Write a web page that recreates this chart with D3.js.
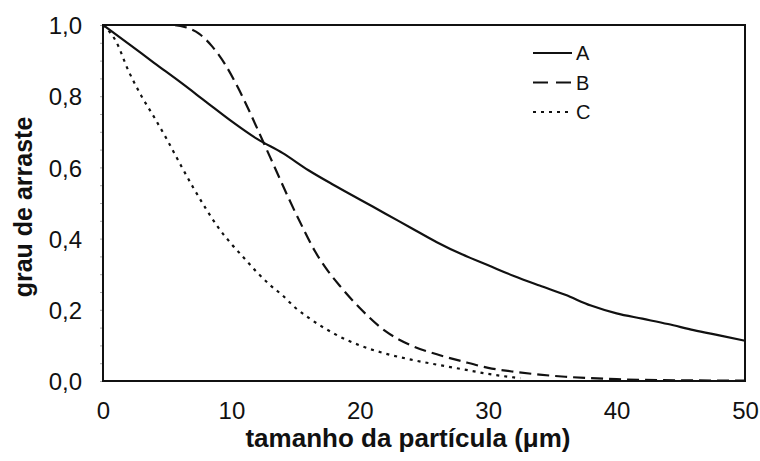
<!DOCTYPE html>
<html>
<head>
<meta charset="utf-8">
<script src="https://cdn.jsdelivr.net/npm/d3@7"></script>
<style>
	body { margin: 0; background: #fff; }
	text { font-family: Arial, "Liberation Sans", sans-serif; fill: #111; }
</style>
</head>
<body>
<div id="chartDiv"></div>
<script>

// particle size (um) and drag degree per curve
var xA = [0, 2, 4, 6, 8, 10, 12, 14, 16, 18, 20, 22, 24, 26, 28, 30, 32, 34, 36, 38, 40, 42, 44, 46, 48, 50]
var yA = [1.0, 0.947, 0.893, 0.84, 0.785, 0.73, 0.68, 0.64, 0.592, 0.55, 0.51, 0.47, 0.43, 0.39, 0.355, 0.325, 0.295, 0.268, 0.242, 0.212, 0.19, 0.175, 0.16, 0.143, 0.128, 0.113]

var xB = [0, 2, 4, 5.5, 6.5, 7.5, 8.5, 9.5, 10.5, 11.5, 12.5, 13.5, 14.5, 15.5, 16.5, 17.5, 18.5, 20, 22, 24, 26, 28, 30, 32, 34, 36, 38, 40, 45, 50]
var yB = [1.0, 1.0, 1.0, 1.0, 0.993, 0.975, 0.94, 0.89, 0.825, 0.75, 0.67, 0.59, 0.51, 0.435, 0.365, 0.31, 0.265, 0.205, 0.14, 0.1, 0.075, 0.055, 0.037, 0.026, 0.018, 0.012, 0.008, 0.005, 0.002, 0.001]

var xC = [0, 1, 2, 3, 4, 5, 6, 7, 8, 9, 10, 11, 12, 13, 14, 15, 16, 18, 20, 22, 24, 26, 28, 30, 32, 32.5]
var yC = [1.0, 0.955, 0.87, 0.8, 0.74, 0.677, 0.61, 0.545, 0.485, 0.43, 0.385, 0.345, 0.305, 0.27, 0.24, 0.205, 0.178, 0.133, 0.1, 0.077, 0.06, 0.046, 0.033, 0.02, 0.01, 0.008]

var seriesNames = ["A", "B", "C"]
var xTicks = [0, 10, 20, 30, 40, 50]
var yTicks = [0, 0.2, 0.4, 0.6, 0.8, 1.0]

;(function() {

	var width = 760;
	var height = 461;
	var plot = { left: 103, right: 745, top: 25, bottom: 381 };
	var xAxisLabelHeader = "tamanho da partícula (μm)";
	var yAxisLabelHeader = "grau de arraste";
	var dashes = ["none", "12,6", "3,5"];

	var chart;
	var comma = d3.formatLocale({ decimal: ",", thousands: ".", grouping: [3], currency: ["", ""] }).format(".1f");

	init();

	function init() {
		chart = d3.select("#chartDiv").append("svg")
			.attr("width", width)
			.attr("height", height);

		chart.xScale = d3.scaleLinear().domain([0, 50]).range([plot.left, plot.right]);
		chart.yScale = d3.scaleLinear().domain([0, 1]).range([plot.bottom, plot.top]);

		createAxes();
		drawLines();
		drawLegend();
	}

	function createAxes() {

		// faint minor ticks on the left edge
		chart.append("g")
			.attr("transform", "translate(" + plot.left + ",0)")
			.call(d3.axisLeft(chart.yScale).tickValues(d3.range(0, 1.0001, 0.05)).tickSize(3).tickFormat(""))
			.call(function(g) { g.select(".domain").remove(); })
			.selectAll("line").attr("stroke", "#aaa");

		// y tick labels
		chart.append("g")
			.attr("transform", "translate(" + (plot.left - 21) + ",0)")
			.call(d3.axisLeft(chart.yScale).tickValues(yTicks).tickSize(0).tickFormat(comma))
			.call(function(g) { g.select(".domain").remove(); })
			.selectAll("text")
				.attr("x", 0)
				.attr("dy", "0.36em")
				.style("font-size", "24px")
				.style("font-family", "Arial, 'Liberation Sans', sans-serif")
				.attr("fill", "#111");

		// x tick labels
		chart.append("g")
			.attr("transform", "translate(0," + plot.bottom + ")")
			.call(d3.axisBottom(chart.xScale).tickValues(xTicks).tickSize(0).tickFormat(d3.format("d")))
			.call(function(g) { g.select(".domain").remove(); })
			.selectAll("text")
				.attr("y", 38)
				.attr("dy", 0)
				.style("font-size", "24px")
				.style("font-family", "Arial, 'Liberation Sans', sans-serif")
				.attr("fill", "#111");

		// box
		chart.append("rect")
			.attr("x", plot.left)
			.attr("y", plot.top)
			.attr("width", plot.right - plot.left)
			.attr("height", plot.bottom - plot.top)
			.attr("fill", "none")
			.attr("stroke", "#111")
			.attr("stroke-width", 2);

		chart.append("text")
			.style("font-size", "26px")
			.style("font-weight", "bold")
			.attr("text-anchor", "middle")
			.attr("x", 408)
			.attr("y", 447)
			.text(xAxisLabelHeader);

		chart.append("text")
			.style("font-size", "25px")
			.style("font-weight", "bold")
			.attr("text-anchor", "middle")
			.attr("transform", "translate(32," + ((plot.top + plot.bottom) / 2 + 4) + ") rotate(-90)")
			.text(yAxisLabelHeader);
	}

	function drawLines() {
		var sets = [d3.zip(xA, yA), d3.zip(xB, yB), d3.zip(xC, yC)];
		var line = d3.line()
			.x(function(d) { return chart.xScale(d[0]); })
			.y(function(d) { return chart.yScale(d[1]); })
			.curve(d3.curveMonotoneX);

		chart.selectAll(".curve").data(sets).enter().append("path")
			.attr("class", "curve")
			.attr("d", line)
			.attr("fill", "none")
			.attr("stroke", "#111")
			.attr("stroke-width", 2.2)
			.attr("stroke-dasharray", function(d, i) { return dashes[i]; });
	}

	function drawLegend() {
		var leg = chart.append("g").attr("transform", "translate(533,53)");
		var items = leg.selectAll("g").data(seriesNames).enter().append("g")
			.attr("transform", function(d, i) { return "translate(0," + (i * 29.5) + ")"; });

		items.append("line")
			.attr("x1", 0).attr("x2", 39)
			.attr("stroke", "#111")
			.attr("stroke-width", 2.2)
			.attr("stroke-dasharray", function(d, i) { return i == 1 ? "15,8" : dashes[i]; });

		items.append("text")
			.attr("x", 43)
			.attr("dy", "0.36em")
			.style("font-size", "20px")
			.text(function(d) { return d; });
	}

})();
</script>
</body>
</html>
